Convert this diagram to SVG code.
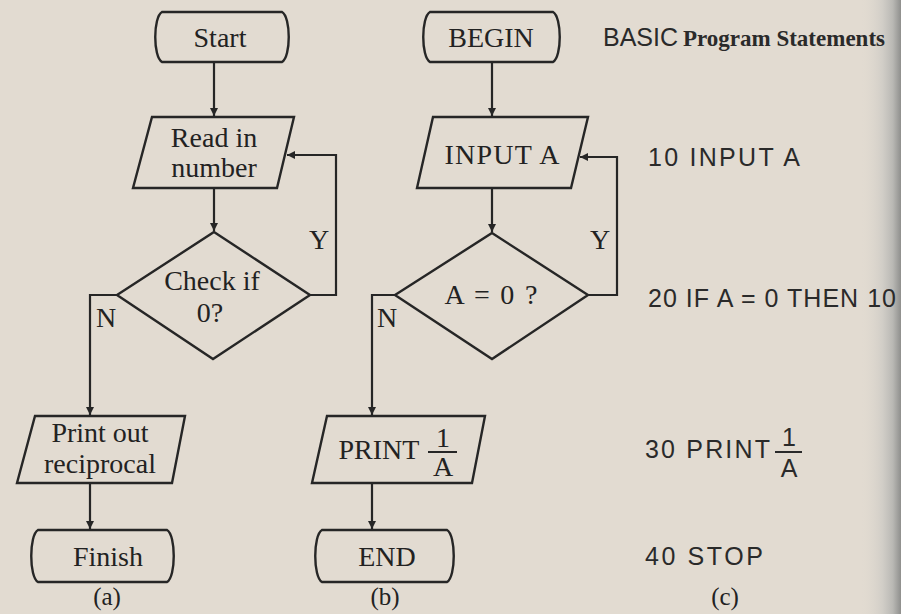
<svg xmlns="http://www.w3.org/2000/svg" width="901" height="614" viewBox="0 0 901 614">
<defs>
<style>
.ln{fill:none;stroke:#262626;stroke-width:2.2;stroke-linejoin:miter}
.sh{fill:none;stroke:#262626;stroke-width:2.4}
.sf{font-family:"Liberation Serif","Times New Roman",serif;fill:#222;font-size:28px;text-anchor:middle}
.ss{font-family:"Liberation Sans",Arial,sans-serif;fill:#2a2a2a;font-size:25px}
.lb{font-family:"Liberation Serif","Times New Roman",serif;fill:#222;font-size:25px;text-anchor:middle}
</style>
<marker id="ah" markerUnits="userSpaceOnUse" markerWidth="10" markerHeight="10" refX="8" refY="4" orient="auto">
<path d="M0,0 L8,4 L0,8 z" fill="#262626"/>
</marker>
<linearGradient id="edge" x1="0" y1="0" x2="1" y2="0">
<stop offset="0" stop-color="#e2dbd1" stop-opacity="0"/>
<stop offset="0.55" stop-color="#cfccc6" stop-opacity="0.9"/>
<stop offset="0.8" stop-color="#b9b8b4"/>
<stop offset="1" stop-color="#8f8f8d"/>
</linearGradient>
</defs>
<rect width="901" height="614" fill="#e2dbd1"/>
<rect x="860" y="0" width="41" height="614" fill="url(#edge)"/>

<g id="connectors">
<path class="ln" d="M214,62 V116" marker-end="url(#ah)"/>
<path class="ln" d="M214,188 V231" marker-end="url(#ah)"/>
<path class="ln" d="M117,295 H90 V415" marker-end="url(#ah)"/>
<path class="ln" d="M310,295 H336 V155 H287" marker-end="url(#ah)"/>
<path class="ln" d="M90,483 V529" marker-end="url(#ah)"/>
<path class="ln" d="M492,62 V116" marker-end="url(#ah)"/>
<path class="ln" d="M492,188 V232" marker-end="url(#ah)"/>
<path class="ln" d="M395,295 H372 V415" marker-end="url(#ah)"/>
<path class="ln" d="M588,295 H617 V157 H580" marker-end="url(#ah)"/>
<path class="ln" d="M372,483 V529" marker-end="url(#ah)"/>
</g>

<g id="start">
<path class="sh" d="M162,12 H282 C291,17 291,57 282,62 H162 C153,57 153,17 162,12 Z"/>
<text class="sf" x="220" y="47">Start</text>
</g>
<g id="read">
<path class="sh" d="M152,117 H294 L277,188 H133 Z"/>
<text class="sf" x="214" y="147">Read in</text>
<text class="sf" x="214" y="177">number</text>
</g>
<g id="check">
<path class="sh" d="M214,232 L310,295 L213,359 L117,295 Z"/>
<text class="sf" x="212" y="290">Check if</text>
<text class="sf" x="210" y="322">0?</text>
</g>
<g id="labels-a">
<text class="sf" x="319" y="249" font-size="27">Y</text>
<text class="sf" x="106" y="327" font-size="27">N</text>
</g>
<g id="print">
<path class="sh" d="M35,416 H185 L172,483 H17 Z"/>
<text class="sf" x="100" y="442">Print out</text>
<text class="sf" x="100" y="473">reciprocal</text>
</g>
<g id="finish">
<path class="sh" d="M38,530 H167 C176,535 176,577 167,582 H38 C29,577 29,535 38,530 Z"/>
<text class="sf" x="108" y="566">Finish</text>
</g>
<text class="lb" x="107" y="605">(a)</text>

<g id="begin">
<path class="sh" d="M430,12 H553 C562,17 562,57 553,62 H430 C421,57 421,17 430,12 Z"/>
<text class="sf" x="491" y="47">BEGIN</text>
</g>
<g id="input">
<path class="sh" d="M433,117 H588 L571,188 H417 Z"/>
<text class="sf" x="502" y="164" textLength="115" lengthAdjust="spacing">INPUT A</text>
</g>
<g id="test">
<path class="sh" d="M492,233 L588,295 L492,359 L395,295 Z"/>
<text class="sf" x="491" y="304" textLength="93" lengthAdjust="spacing">A = 0 ?</text>
</g>
<g id="labels-b">
<text class="sf" x="600" y="249" font-size="27">Y</text>
<text class="sf" x="387" y="327" font-size="27">N</text>
</g>
<g id="printA">
<path class="sh" d="M327,416 H485 L472,483 H312 Z"/>
<text class="sf" x="379" y="459">PRINT</text>
<text class="sf" x="443" y="447" font-size="25">1</text>
<line x1="428" y1="452" x2="457" y2="452" stroke="#262626" stroke-width="2"/>
<text class="sf" x="443" y="476" font-size="25">A</text>
</g>
<g id="end">
<path class="sh" d="M322,530 H447 C456,535 456,577 447,582 H322 C313,577 313,535 322,530 Z"/>
<text class="sf" x="387" y="566">END</text>
</g>
<text class="lb" x="385" y="605">(b)</text>

<g id="program">
<text class="ss" x="603" y="46" font-size="21">BASIC</text>
<text x="683" y="46" font-family="Liberation Serif,'Times New Roman',serif" font-weight="bold" font-size="23" fill="#2a2a2a" textLength="202" lengthAdjust="spacing">Program Statements</text>
<text class="ss" x="648" y="166" textLength="152" lengthAdjust="spacing">10  INPUT A</text>
<text class="ss" x="648" y="307" textLength="248" lengthAdjust="spacing">20  IF A = 0 THEN 10</text>
<text class="ss" x="645" y="458" textLength="125" lengthAdjust="spacing">30  PRINT</text>
<text class="ss" x="789" y="446" text-anchor="middle" font-size="24">1</text>
<line x1="775" y1="452" x2="802" y2="452" stroke="#2a2a2a" stroke-width="2"/>
<text class="ss" x="789" y="477" text-anchor="middle" font-size="24">A</text>
<text class="ss" x="645" y="565" textLength="118" lengthAdjust="spacing">40  STOP</text>
</g>
<text class="lb" x="725" y="605">(c)</text>
</svg>
